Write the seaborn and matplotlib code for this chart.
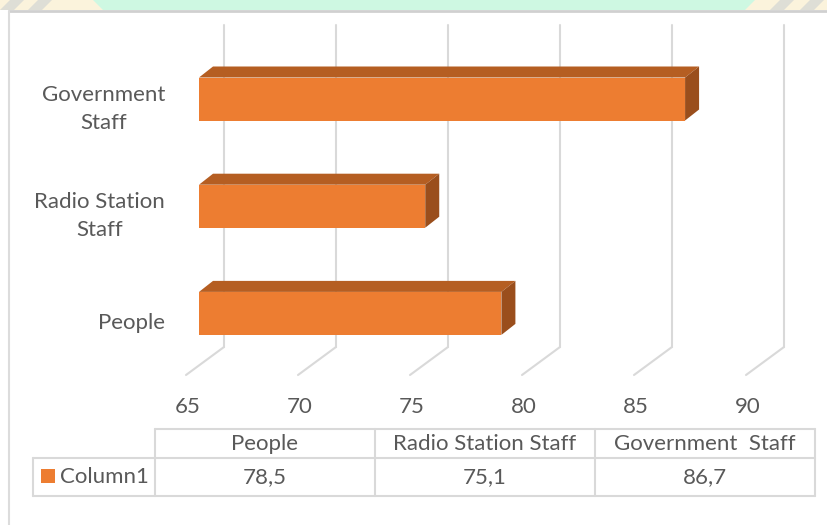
import matplotlib
matplotlib.use("Agg")
import matplotlib.pyplot as plt
from matplotlib.patches import Polygon, Rectangle
from matplotlib.lines import Line2D
import seaborn as sns
import pandas as pd

# ---- data ----
categories = ["Government Staff", "Radio Station Staff", "People"]
cat_labels = ["Government\nStaff", "Radio Station\nStaff", "People"]
values = [86.7, 75.1, 78.5]
table_headers = ["People", "Radio Station Staff", "Government  Staff"]
table_values = ["78,5", "75,1", "86,7"]
series_name = "Column1"
x_ticks = [65, 70, 75, 80, 85, 90]

# ---- style ----
sns.set_theme(style="white")
plt.rcParams["font.family"] = ["Lato", "DejaVu Sans"]
TXT = "#595959"
FRONT = "#ED7D31"
TOP = "#B55E22"
SIDE = "#9A4E1C"
GRID = "#D9D9D9"
FS = 16

W, H = 828, 525
fig = plt.figure(figsize=(W / 100, H / 100), dpi=100)

def fpx(x, y):
    return (x / W, 1 - y / H)

# ---- axes mapping: value -> px = 199 + 22.4*(v-65); category i -> py = 99 + 107.2*i
PXU = 22.4
PYU = 107.2
X0PX = 199
ax = fig.add_axes([X0PX / W, 0, (W - X0PX) / W, 1])
df = pd.DataFrame({"category": categories, "value": values})
sns.barplot(data=df, x="value", y="category", order=categories, color=FRONT,
            saturation=1, width=43 / PYU, linewidth=0, ax=ax, zorder=3)
ax.set_xlim(65, 65 + (W - X0PX) / PXU)
ax.set_ylim((H - 99) / PYU, -99 / PYU)
ax.set_axis_off()

def dx(px):
    return px / PXU

def py2i(py):
    return (py - 99) / PYU

# gridlines (back wall) + floor diagonals
for v in x_ticks:
    xb = v + dx(25)
    ax.add_line(Line2D([xb, xb], [py2i(25), py2i(347)], color=GRID, lw=1.5,
                       zorder=1, clip_on=False))
    ax.add_line(Line2D([xb, v - dx(13)], [py2i(347), py2i(375)], color=GRID,
                       lw=1.5, zorder=1, clip_on=False))
    ax.text(v - dx(11), py2i(407), str(v), ha="center", va="center",
            fontsize=FS, color=TXT, clip_on=False)

# 3D faces of bars
ddx = dx(14)
ddy = 11 / PYU
h = 43 / PYU
for i, v in enumerate(values):
    top = i - h / 2
    bot = i + h / 2
    ax.add_patch(Polygon([(65, top), (v, top), (v + ddx, top - ddy), (65 + ddx, top - ddy)],
                         closed=True, facecolor=TOP, edgecolor="none", zorder=4, clip_on=False))
    ax.add_patch(Polygon([(v, top), (v + ddx, top - ddy), (v + ddx, bot - ddy), (v, bot)],
                         closed=True, facecolor=SIDE, edgecolor="none", zorder=4, clip_on=False))
    ax.text(65 + dx(165 - X0PX), i + 10 / PYU, cat_labels[i], ha="right", va="center",
            multialignment="center", fontsize=FS, color=TXT, linespacing=1.48,
            clip_on=False)

# ---- frame / top band ----
fig.patches.append(Rectangle(fpx(0, 10), 1, 10 / H, transform=fig.transFigure,
                             facecolor="#FBF3DC", edgecolor="none", zorder=0))
for x0 in (0, 28, 770, 800):
    fig.patches.append(Polygon([fpx(x0, 10), fpx(x0 + 14, 10), fpx(x0 + 24, 0), fpx(x0 + 10, 0)],
                               closed=True, transform=fig.transFigure,
                               facecolor="#DEDED6", edgecolor="none", zorder=0))
fig.patches.append(Polygon([fpx(103, 10), fpx(745, 10), fpx(755, 0), fpx(93, 0)], closed=True,
                           transform=fig.transFigure, facecolor="#CEF8E2",
                           edgecolor="none", zorder=0))
fig.lines.append(Line2D([9 / W, 1], [1 - 11 / H] * 2, transform=fig.transFigure,
                        color="#D0D0D0", lw=2))
fig.lines.append(Line2D([9 / W, 9 / W], [1 - 11 / H, 0], transform=fig.transFigure,
                        color="#DCDCDC", lw=1.5))

# ---- data table ----
col_x = [155, 375, 595, 815]
y_top, y_mid, y_bot = 429, 458, 496
def hline(x0, x1, y):
    fig.lines.append(Line2D([x0 / W, x1 / W], [1 - y / H] * 2, transform=fig.transFigure,
                            color=GRID, lw=1.5))
def vline(x, y0, y1):
    fig.lines.append(Line2D([x / W] * 2, [1 - y0 / H, 1 - y1 / H], transform=fig.transFigure,
                            color=GRID, lw=1.5))
hline(col_x[0], col_x[-1], y_top)
hline(33, col_x[-1], y_mid)
hline(33, col_x[-1], y_bot)
for x in col_x:
    vline(x, y_top, y_bot)
vline(33, y_mid, y_bot)
for k in range(3):
    cx = (col_x[k] + col_x[k + 1]) / 2
    fig.text(*fpx(cx, (y_top + y_mid) / 2), table_headers[k], ha="center", va="center",
             fontsize=FS, color=TXT)
    fig.text(*fpx(cx, (y_mid + y_bot) / 2), table_values[k], ha="center", va="center",
             fontsize=FS, color=TXT)
fig.patches.append(Rectangle(fpx(41, 483), 14 / W, 14 / H, transform=fig.transFigure,
                             facecolor=FRONT, edgecolor="none"))
fig.text(*fpx(60, (y_mid + y_bot) / 2), series_name, ha="left", va="center",
         fontsize=FS, color=TXT)

fig.savefig("out.png", dpi=100, facecolor="white")
